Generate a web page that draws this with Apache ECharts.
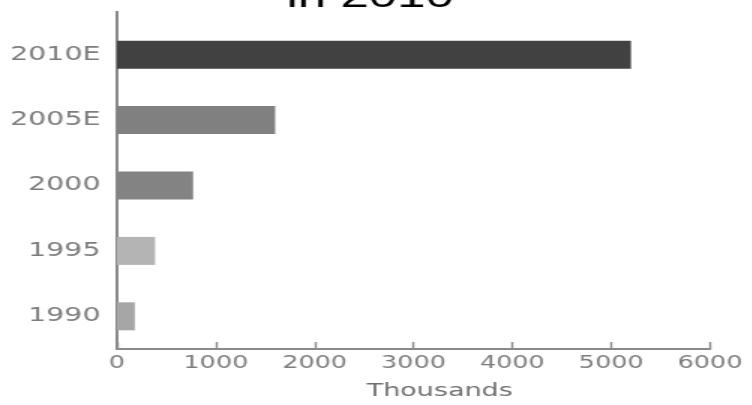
<!DOCTYPE html>
<html>
<head>
<meta charset="utf-8">
<script src="https://cdn.jsdelivr.net/npm/echarts@6/dist/echarts.min.js"></script>
<style>
  html, body { margin: 0; padding: 0; background: #ffffff; overflow: hidden; }
  #wrap { width: 752px; height: 405px; position: relative; overflow: hidden; }
  #chart { position: absolute; left: 0; top: 0; width: 501.333px; height: 405px; transform: scaleX(1.5); transform-origin: 0 0; }
</style>
</head>
<body>
<div id="wrap"><div id="chart"></div></div>
<script>
// Data (categories listed bottom to top)
var categories = ['1990', '1995', '2000', '2005E', '2010E'];
var values = [180, 385, 770, 1600, 5200];
var xTicks = { min: 0, max: 6000, interval: 1000 };
var titleText = 'in 2010';
var axisName = 'Thousands';

// Styles
var barColors = ['#a6a6a6', '#b4b4b4', '#838383', '#808080', '#414141'];
var labelColor = '#7d7d7d';
var axisColor = '#8a8a8a';

var chart = echarts.init(document.getElementById('chart'), null, { renderer: 'canvas', width: 501.333, height: 405 });

var seriesData = values.map(function (v, i) {
  return { value: v, itemStyle: { color: barColors[i] } };
});

chart.setOption({
  backgroundColor: '#ffffff',
  animation: false,
  title: {
    text: titleText,
    left: 191,
    top: -19,
    padding: 0,
    textStyle: { fontFamily: 'Liberation Sans', fontSize: 34, fontWeight: 'normal', color: '#000000' }
  },
  grid: { left: 78, right: 28, top: 22, bottom: 55, containLabel: false },
  xAxis: {
    type: 'value',
    min: xTicks.min,
    max: xTicks.max,
    interval: xTicks.interval,
    name: axisName,
    nameLocation: 'middle',
    nameGap: 33,
    nameTextStyle: { fontFamily: 'DejaVu Sans', fontSize: 18, color: '#707070', padding: [0, 0, 0, 35] },
    splitLine: { show: false },
    axisLine: { show: true, lineStyle: { color: axisColor, width: 2 } },
    axisTick: { show: true, inside: true, length: 7, lineStyle: { color: axisColor, width: 1.4 } },
    axisLabel: {
      fontFamily: 'DejaVu Sans', fontSize: 17, color: labelColor, margin: 6,
      formatter: function (v) { return String(v); }
    }
  },
  yAxis: {
    type: 'category',
    data: categories,
    axisLine: {
      show: true,
      lineStyle: { color: axisColor, width: 2 },
      symbol: ['none', 'rect'],
      symbolSize: [2, 22]
    },
    axisTick: { show: false },
    axisLabel: { fontFamily: 'DejaVu Sans', fontSize: 19, color: labelColor, margin: 11 },
    splitLine: { show: false }
  },
  series: [{
    type: 'bar',
    data: seriesData,
    barWidth: 28
  }]
});
</script>
</body>
</html>
